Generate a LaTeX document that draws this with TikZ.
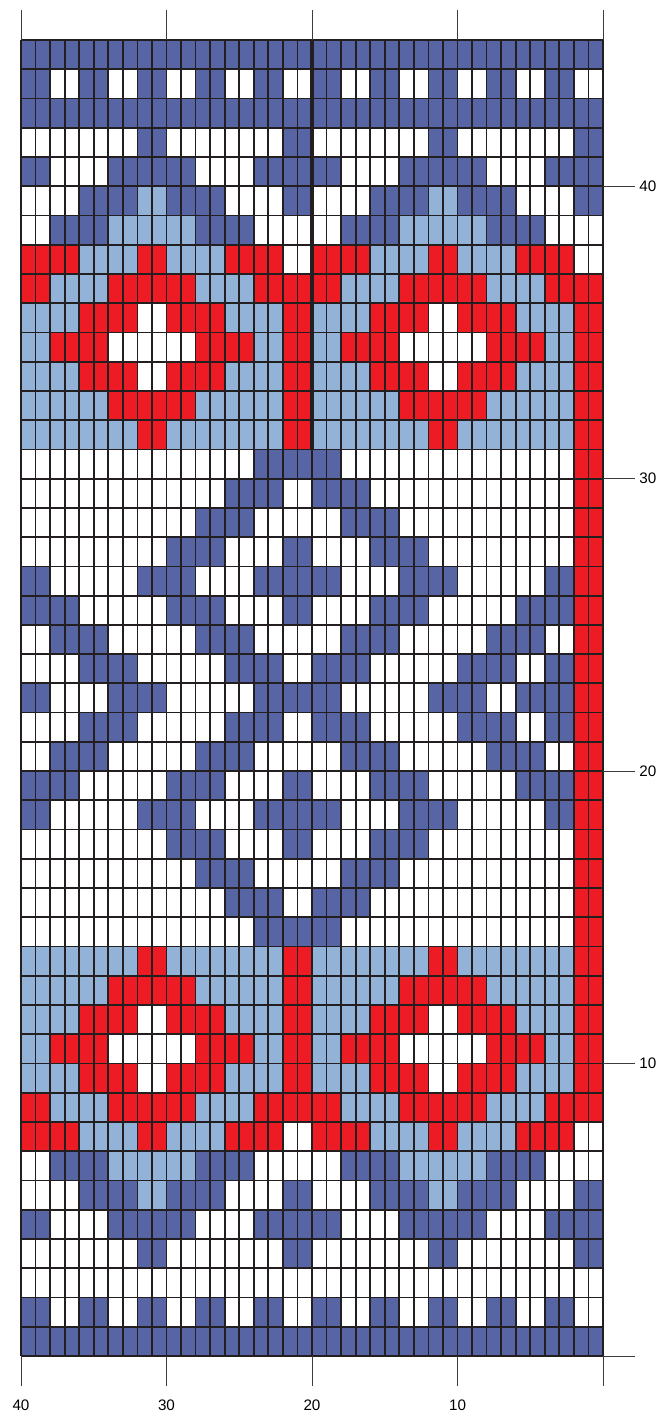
\documentclass[tikz,border=0pt]{standalone}
\usepackage{fontspec}
\setmainfont{Liberation Sans}
\usepackage{xcolor}

\definecolor{kD}{RGB}{88,101,165}
\definecolor{kL}{RGB}{146,178,216}
\definecolor{kR}{RGB}{237,28,36}
\definecolor{kW}{RGB}{255,255,255}
\definecolor{gridcol}{RGB}{35,31,32}
\definecolor{tickcol}{RGB}{60,60,60}

\begin{document}
\begin{tikzpicture}[x=0.4365cm, y=0.8773cm,
	gridline/.style={line width=1.5pt, draw=gridcol},
	tick/.style={line width=0.8pt, draw=tickcol},
	lab/.style={font=\fontsize{13}{15}\selectfont, inner sep=1pt}]
		
		\useasboundingbox (-1.443,-2.223) rectangle (44.536,46.368);
		
		% cells, one letter per pair of stitches, top row first
		\foreach \row [count=\r] in {
			{D,D,D,D,D,D,D,D,D,D,D,D,D,D,D,D,D,D,D,D},
			{D,W,D,W,D,W,D,W,D,W,D,W,D,W,D,W,D,W,D,W},
			{D,D,D,D,D,D,D,D,D,D,D,D,D,D,D,D,D,D,D,D},
			{W,W,W,W,D,W,W,W,W,D,W,W,W,W,D,W,W,W,W,D},
			{D,W,W,D,D,D,W,W,D,D,D,W,W,D,D,D,W,W,D,D},
			{W,W,D,D,L,D,D,W,W,D,W,W,D,D,L,D,D,W,W,D},
			{W,D,D,L,L,L,D,D,W,W,W,D,D,L,L,L,D,D,W,W},
			{R,R,L,L,R,L,L,R,R,W,R,R,L,L,R,L,L,R,R,W},
			{R,L,L,R,R,R,L,L,R,R,R,L,L,R,R,R,L,L,R,R},
			{L,L,R,R,W,R,R,L,L,R,L,L,R,R,W,R,R,L,L,R},
			{L,R,R,W,W,W,R,R,L,R,L,R,R,W,W,W,R,R,L,R},
			{L,L,R,R,W,R,R,L,L,R,L,L,R,R,W,R,R,L,L,R},
			{L,L,L,R,R,R,L,L,L,R,L,L,L,R,R,R,L,L,L,R},
			{L,L,L,L,R,L,L,L,L,R,L,L,L,L,R,L,L,L,L,R},
			{W,W,W,W,W,W,W,W,D,D,D,W,W,W,W,W,W,W,W,R},
			{W,W,W,W,W,W,W,D,D,W,D,D,W,W,W,W,W,W,W,R},
			{W,W,W,W,W,W,D,D,W,W,W,D,D,W,W,W,W,W,W,R},
			{W,W,W,W,W,D,D,W,W,D,W,W,D,D,W,W,W,W,W,R},
			{D,W,W,W,D,D,W,W,D,D,D,W,W,D,D,W,W,W,D,R},
			{D,D,W,W,W,D,D,W,W,D,W,W,D,D,W,W,W,D,D,R},
			{W,D,D,W,W,W,D,D,W,W,W,D,D,W,W,W,D,D,W,R},
			{W,W,D,D,W,W,W,D,D,W,D,D,W,W,W,D,D,W,D,R},
			{D,W,W,D,D,W,W,W,D,D,D,W,W,W,D,D,W,D,D,R},
			{W,W,D,D,W,W,W,D,D,W,D,D,W,W,W,D,D,W,D,R},
			{W,D,D,W,W,W,D,D,W,W,W,D,D,W,W,W,D,D,W,R},
			{D,D,W,W,W,D,D,W,W,D,W,W,D,D,W,W,W,D,D,R},
			{D,W,W,W,D,D,W,W,D,D,D,W,W,D,D,W,W,W,D,R},
			{W,W,W,W,W,D,D,W,W,D,W,W,D,D,W,W,W,W,W,R},
			{W,W,W,W,W,W,D,D,W,W,W,D,D,W,W,W,W,W,W,R},
			{W,W,W,W,W,W,W,D,D,W,D,D,W,W,W,W,W,W,W,R},
			{W,W,W,W,W,W,W,W,D,D,D,W,W,W,W,W,W,W,W,R},
			{L,L,L,L,R,L,L,L,L,R,L,L,L,L,R,L,L,L,L,R},
			{L,L,L,R,R,R,L,L,L,R,L,L,L,R,R,R,L,L,L,R},
			{L,L,R,R,W,R,R,L,L,R,L,L,R,R,W,R,R,L,L,R},
			{L,R,R,W,W,W,R,R,L,R,L,R,R,W,W,W,R,R,L,R},
			{L,L,R,R,W,R,R,L,L,R,L,L,R,R,W,R,R,L,L,R},
			{R,L,L,R,R,R,L,L,R,R,R,L,L,R,R,R,L,L,R,R},
			{R,R,L,L,R,L,L,R,R,W,R,R,L,L,R,L,L,R,R,W},
			{W,D,D,L,L,L,D,D,W,W,W,D,D,L,L,L,D,D,W,W},
			{W,W,D,D,L,D,D,W,W,D,W,W,D,D,L,D,D,W,W,D},
			{D,W,W,D,D,D,W,W,D,D,D,W,W,D,D,D,W,W,D,D},
			{W,W,W,W,D,W,W,W,W,D,W,W,W,W,D,W,W,W,W,D},
			{W,W,W,W,W,W,W,W,W,W,W,W,W,W,W,W,W,W,W,W},
			{D,W,D,W,D,W,D,W,D,W,D,W,D,W,D,W,D,W,D,W},
			{D,D,D,D,D,D,D,D,D,D,D,D,D,D,D,D,D,D,D,D}} {
			\foreach \c [count=\p] in \row {
				\fill[k\c] ({2*\p-2},{45-\r}) rectangle ({2*\p},{46-\r});
			}
		}
		
		% grid
		\foreach \i in {0,...,40}
			\draw[gridline] (\i,0) -- (\i,45);
		\foreach \j in {0,...,45}
			\draw[gridline] (0,\j) -- (40,\j);
		
		% centre line
		\draw[line width=2.6pt, draw=gridcol] (20,31) -- (20,45);
		
		% ticks
		\foreach \i in {0,10,20,30,40} {
			\draw[tick] (\i,45) -- (\i,46.03);
			\draw[tick] (\i,0) -- (\i,-1.03);
			\draw[tick] (40,\i) -- (42.2,\i);
		}
		
		% labels
		\foreach \n in {10,20,30,40} {
			\node[lab, anchor=west] (row\n) at (42.4,\n) {\n};
			\node[lab] (col\n) at ({40-\n},-1.68) {\n};
		}
		
	\end{tikzpicture}
\end{document}
